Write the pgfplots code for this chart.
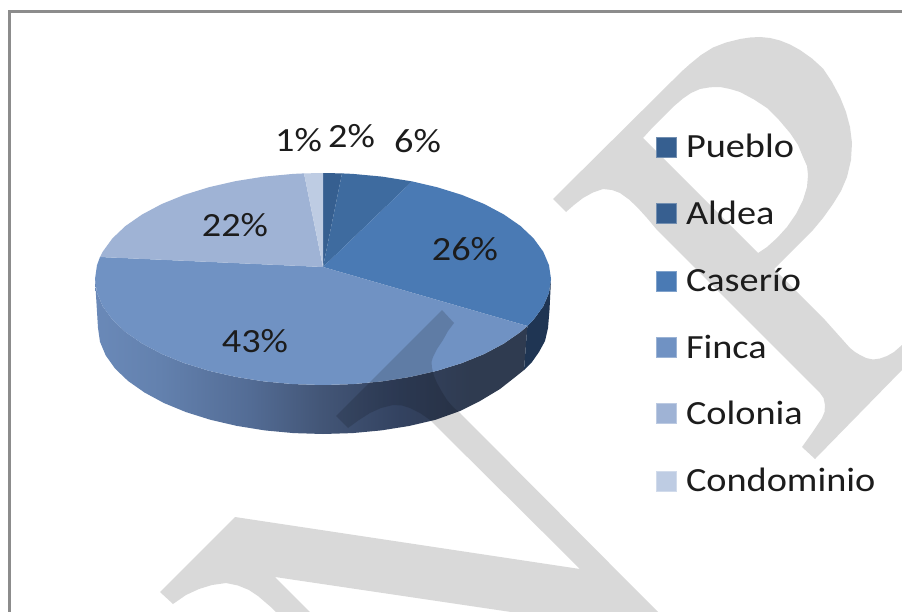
\documentclass[border=0pt]{standalone}
\usepackage{fontspec}
\setmainfont{Carlito}[FakeStretch=1.13]
\usepackage{pgfplots}
\pgfplotsset{compat=1.18}
\definecolor{cPueblo}{HTML}{365F90}
\definecolor{cAldea}{HTML}{3E6B9F}
\definecolor{cAldeaL}{HTML}{375F90}
\definecolor{cCaserio}{HTML}{4A7AB4}
\definecolor{cFinca}{HTML}{7092C3}
\definecolor{cColonia}{HTML}{9FB3D5}
\definecolor{cCondo}{HTML}{BECCE3}
\definecolor{wA}{HTML}{6A89B8}
\definecolor{wB}{HTML}{6381AE}
\definecolor{wC}{HTML}{536C95}
\definecolor{wD}{HTML}{435677}
\definecolor{wE}{HTML}{334260}
\definecolor{wF}{HTML}{2F3B50}
\definecolor{wCas}{HTML}{1F3553}
\definecolor{frameC}{HTML}{8C8C8C}
\definecolor{txt}{HTML}{1C1C1C}
\pgfdeclarehorizontalshading{fincawall}{100bp}{color(0bp)=(wA); color(25bp)=(wA); color(32.5bp)=(wB); color(42.9bp)=(wC); color(51bp)=(wD); color(60.3bp)=(wE); color(68.4bp)=(wF); color(75bp)=(wF); color(100bp)=(wF)}
\newcommand{\lbl}{\fontsize{34}{37}\selectfont\color{txt}}
\begin{document}
\begin{tikzpicture}
\begin{axis}[
  scale only axis, width=902bp, height=612bp,
  xmin=0, xmax=902, ymin=0, ymax=612, y dir=reverse,
  axis lines=none, ticks=none,
  nodes={inner sep=0pt, outer sep=0pt}
]
% page background
\addplot[fill=white, draw=none] coordinates {(0,0)(902,0)(902,612)(0,612)};
% wall of the Finca slice
\addplot[draw=none, shade, shading=fincawall] coordinates {
(95,279)(97,292.8)(102.8,306.4)(112.4,319.6)(125.5,332)(142.1,343.5)(161.8,354)(184.2,363.1)(209,370.8)(235.7,376.9)(264,381.4)(293.2,384.1)(323,385)(352.8,384.1)(382,381.4)(410.3,376.9)(437,370.8)(461.8,363.1)(484.2,354)(503.9,343.5)(520.5,332)(527.4,326)
(524,370)(514,378)(500,389)(480,401)(460,411)(435.5,419.8)(409,426)(381.2,430.4)(352.4,433.1)(323,434)(293.6,433.1)(264.8,430.4)(236.9,425.9)(210.5,419.8)(186,412.1)(163.9,403)(144.5,392.5)(128.1,381)(115.1,368.6)(105.7,355.4)(100,341.8)(98,328)};
% wall of the Caserio slice
\addplot[fill=wCas, draw=none] coordinates {
(527.4,326)(533.6,319.6)(543.2,306.4)(549,292.8)(551,279)(549.5,310)(548,328)(545,341)(539,352)(532,362)(524,370)};
% top: Pueblo 2%
\addplot[fill=cPueblo, draw=none] coordinates {(323,267)(323,173)(342,173.4)};
% top: Aldea 6%
\addplot[fill=cAldea, draw=none] coordinates {(323,267)(342,173.4)(352.8,173.9)(382,176.6)(412.1,181.4)};
% top: Caserio 26%
\addplot[fill=cCaserio, draw=none] coordinates {(323,267)(412.1,181.4)(437,187.2)(461.8,194.9)(484.2,204)(503.9,214.5)(520.5,226)(533.6,238.4)(543.2,251.6)(549,265.2)(551,279)(549,292.8)(543.2,306.4)(533.6,319.6)(527.4,326)};
% top: Finca 43%
\addplot[fill=cFinca, draw=none] coordinates {(323,267)(527.4,326)(520.5,332)(503.9,343.5)(484.2,354)(461.8,363.1)(437,370.8)(410.3,376.9)(382,381.4)(352.8,384.1)(323,385)(293.2,384.1)(264,381.4)(235.7,376.9)(209,370.8)(184.2,363.1)(161.8,354)(142.1,343.5)(125.5,332)(112.4,319.6)(102.8,306.4)(97,292.8)(95,279)(97,265.2)(100,257)};
% top: Colonia 22%
\addplot[fill=cColonia, draw=none] coordinates {(323,267)(100,257)(102.8,251.6)(112.4,238.4)(125.5,226)(142.1,214.5)(161.8,204)(184.2,194.9)(209,187.2)(235.7,181.1)(264,176.6)(293.2,173.9)(304,173.4)};
% top: Condominio 1%
\addplot[fill=cCondo, draw=none] coordinates {(323,267)(304,173.4)(323,173)};
% legend keys
\addplot[only marks, mark=square*, mark size=10.2pt, mark options={fill=cPueblo, draw=cPueblo!70, line width=0.6pt}] coordinates {(666.5,147)};
\addplot[only marks, mark=square*, mark size=10.2pt, mark options={fill=cAldeaL, draw=cAldeaL!70, line width=0.6pt}] coordinates {(666.5,213.5)};
\addplot[only marks, mark=square*, mark size=10.2pt, mark options={fill=cCaserio, draw=cCaserio!70, line width=0.6pt}] coordinates {(666.5,281.5)};
\addplot[only marks, mark=square*, mark size=10.2pt, mark options={fill=cFinca, draw=cFinca!70, line width=0.6pt}] coordinates {(666.5,347.5)};
\addplot[only marks, mark=square*, mark size=10.2pt, mark options={fill=cColonia, draw=cColonia!70, line width=0.6pt}] coordinates {(666.5,413.5)};
\addplot[only marks, mark=square*, mark size=10.2pt, mark options={fill=cCondo, draw=cCondo!70, line width=0.6pt}] coordinates {(666.5,481.5)};
% watermark, upper letter
\addplot[fill=black, fill opacity=0.15, draw=none] coordinates {
(553,199)(566,212)(574,205)(583,198)(593,192.5)(603,189)(612,190)(620,193)(629,199.5)(637,207)(647,218)(657,230)(820,393)(823.5,398)(825,405)(824.5,412)(822,418)(812,433)(802,447)(815,459)(902,370)(902,345)(894,352)(887,356)(880,358.5)(873,359.5)(866,358)(860,355)(855,352)(850,348)(825,320)(774,269)
(758,253)(643,138)(653,127)(663,117)(673,107)(683,98.5)(691,93)(700,89)(710,87.3)(720,87)(730,89)(740,92)(754,99.5)(767,108)(779,120)(790,133)(798,145)(803,157)(807,166)(808,175)(807,187)(803,200)(796,214)(787,227)(777,238)(767,247)(758,253)(774,269)
(813,230)(823,218)(833,204)(841,191)(847,177)(851,160)(852,143)(850,127)(846,112)(840,97)(832,82)(823,68.5)(812,58.5)(800,50)(790,44.5)(780,40.5)(770,38)(760,37)(750,37.5)(740,39)(726,42.5)(713,47.5)(701,55)(690,64)(681,72)(673,80)};
% watermark, lower letter
\addplot[fill=black, fill opacity=0.15, draw=none] coordinates {
(442,310)(454,323)(448,331)(443,340)(437,349)(433,357)(431.5,362)(432,368)(434,376)(437,383)(442,392)(447,400)(453,407)(460,413)(658,612)(511,612)(275,577)(310,612)(276,612)(272,608)(265,602)(258,596)(249,590)(238,585.5)(226,583)(212,585)(199,589)(186,595)(173,604)(160,592)(235,517)(580,569)(430,420)(420,413)(410,408)(402,405.5)(393,405)(381,408)(370,413)(359,420)(348,428)(336,416)};
% frame
\addplot[draw=frameC, line width=3.3bp] coordinates {(9.7,612)(9.7,11.7)(902,11.7)};
% data labels
\node[anchor=base] at (axis cs:298.5,151) {\lbl 1\%};
\node[anchor=base] at (axis cs:351.5,147) {\lbl 2\%};
\node[anchor=base] at (axis cs:417.5,152) {\lbl 6\%};
\node[anchor=base] at (axis cs:465,260) {\lbl 26\%};
\node[anchor=base] at (axis cs:255,352) {\lbl 43\%};
\node[anchor=base] at (axis cs:235,236) {\lbl 22\%};
% legend labels
\node[anchor=base west] at (axis cs:686,157) {\lbl Pueblo};
\node[anchor=base west] at (axis cs:686,224) {\lbl Aldea};
\node[anchor=base west] at (axis cs:686,291) {\lbl Caserío};
\node[anchor=base west] at (axis cs:686,358) {\lbl Finca};
\node[anchor=base west] at (axis cs:686,424) {\lbl Colonia};
\node[anchor=base west] at (axis cs:686,491) {\lbl Condominio};
\end{axis}
\end{tikzpicture}
\end{document}
